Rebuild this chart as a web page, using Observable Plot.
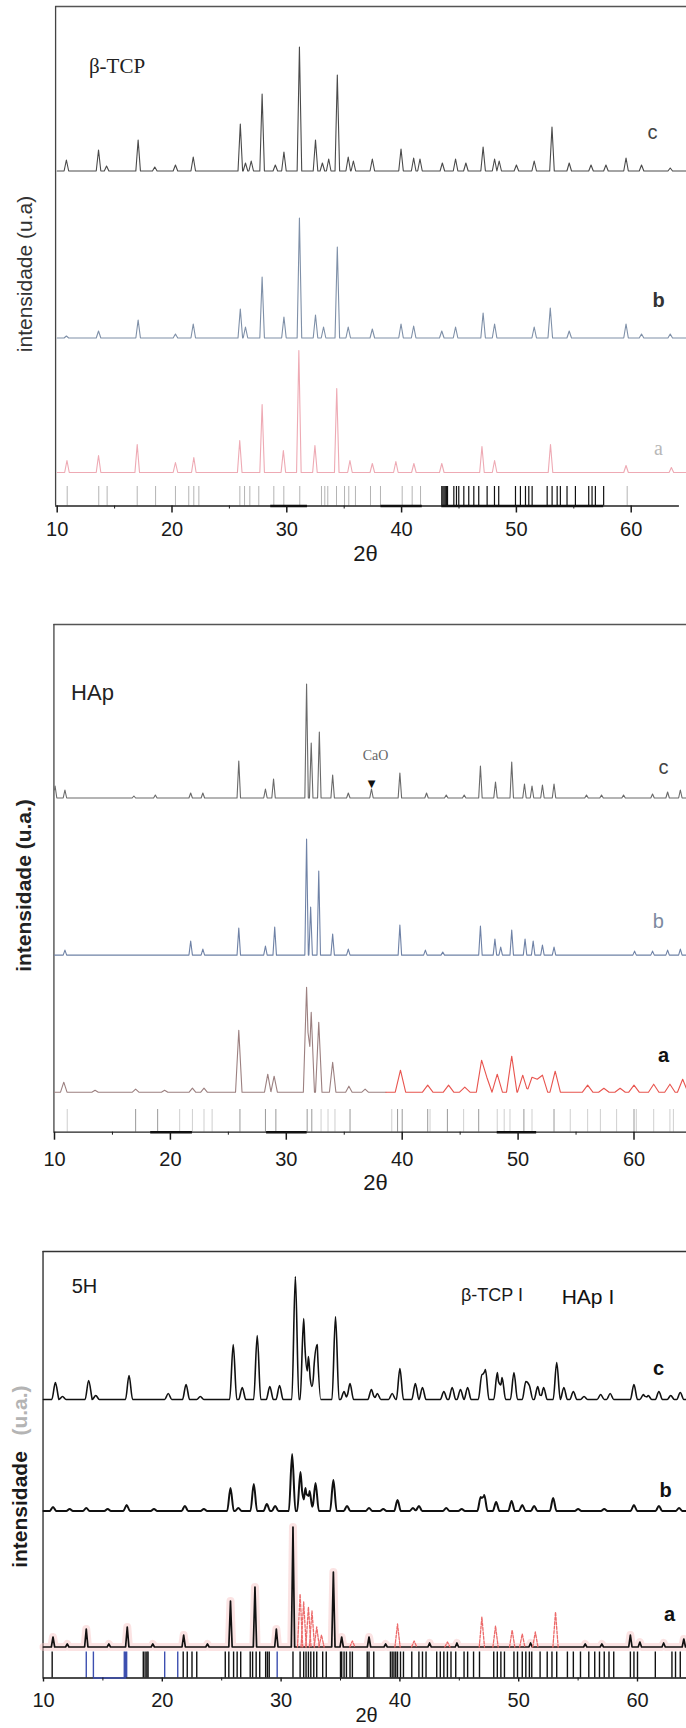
<!DOCTYPE html>
<html>
<head>
<meta charset="utf-8">
<script src="https://cdn.jsdelivr.net/npm/d3@7"></script>
<script src="https://cdn.jsdelivr.net/npm/@observablehq/plot@0.6"></script>
<style>
  body { margin: 0; background: #fff; }
  #fig { position: relative; width: 686px; height: 1728px; overflow: hidden; background: #fff; }
  #fig > svg { position: absolute; left: 0; }
</style>
</head>
<body>
<div id="fig"></div>
<script>
// ---------- β-TCP: peak positions (2θ) and apparent heights ----------
const tcpC = [[10.8,11],[13.6,21],[14.3,5],[17.05,31],[18.5,4],[20.3,6],[21.85,14],[25.95,47],[26.4,8],[26.9,10],[27.85,77],[29.0,6],[29.75,19],[31.1,124],[32.5,31],[33.1,8],[33.65,12],[34.4,96],[35.35,14],[35.8,10],[37.45,12],[39.95,22],[41.05,13],[41.6,12],[43.55,8],[44.7,12],[45.6,8],[47.1,24],[48.1,12],[48.5,10],[50.0,6],[51.55,10],[53.1,44],[54.6,8],[56.5,6],[57.8,6],[59.55,13],[60.9,6],[63.4,3]];
const tcpB = [[10.8,2],[13.6,7],[17.05,18],[20.3,4],[21.85,14],[25.95,29],[26.4,11],[27.85,61],[29.75,21],[31.1,120],[32.5,23],[33.2,11],[34.4,91],[35.35,11],[37.45,9],[39.95,14],[41.05,12],[43.5,7],[44.7,11],[47.1,25],[48.1,14],[51.55,11],[52.95,30],[54.6,7],[59.55,14],[60.9,4],[63.4,4]];
const tcpA = [[10.85,12],[13.6,17],[16.97,28],[20.3,10],[21.9,15],[25.9,32],[27.85,68],[29.7,22],[31.05,122],[32.45,27],[34.35,84],[35.5,12],[37.45,9],[39.5,11],[41.07,9],[43.5,9],[47.0,26],[48.1,12],[52.97,28],[59.55,7],[63.5,5]];
const tcpRefGray = [10.87,13.62,14.35,16.97,18.57,20.3,21.46,21.9,22.34,25.91,26.32,26.78,27.56,28.87,29.74,31.13,33.02,33.31,33.57,34.33,35.03,35.4,35.98,37.29,38.16,40.05,40.92,41.65,59.65];
const tcpRefBlack = [43.5,43.6,43.7,43.8,43.9,44.0,44.55,44.78,44.98,45.42,45.85,46.29,46.72,47.45,48.09,48.46,49.92,50.35,50.79,51.08,51.37,52.68,53.11,53.55,53.83,54.41,55.14,56.3,56.59,56.88,57.6];
const tcpAxisBars = [[28.6,31.8],[38.2,41.8],[43.5,57.6]];

// ---------- HAp ----------
const hapC = [[10.05,12],[10.9,8],[16.85,2],[18.7,3],[21.75,5],[22.8,5],[25.9,37],[28.2,9],[28.9,19],[31.75,114],[32.15,55],[32.85,66],[34.0,23],[35.35,5],[37.35,9],[39.8,25],[42.1,5],[43.8,3],[45.35,3],[46.75,32],[48.05,16],[49.45,36],[50.55,14],[51.2,12],[52.1,13],[53.1,14],[55.9,3],[57.2,3],[59.1,3],[61.6,4],[62.9,6],[64.0,8]];
const hapB = [[10.9,5],[21.75,14],[22.8,6],[25.9,27],[28.2,9],[29.0,28],[31.75,116],[32.1,48],[32.8,84],[34.0,21],[35.35,6],[39.8,30],[42.0,5],[43.5,3],[46.75,29],[48.0,16],[48.5,8],[49.45,25],[50.6,16],[51.3,14],[52.1,10],[53.1,8],[60.05,4],[61.6,4],[62.9,5],[64.0,6]];
const hapA = [[10.8,10],[13.5,2],[17.0,3],[19.5,2],[21.9,4],[22.9,4],[25.9,62],[28.4,18],[28.95,16],[31.75,105],[32.15,80],[32.8,70],[34.0,30],[35.4,6],[36.8,3],[39.85,22],[42.2,7],[44.0,7],[45.4,5],[46.85,32],[47.3,15],[48.2,18],[49.45,36],[50.4,17],[51.2,15],[51.65,13],[52.1,17],[53.2,21],[56.0,7],[57.4,4],[58.8,4],[60.0,7],[61.7,8],[63.1,8],[64.2,13]];
const hapRefDark = [17.0,18.9,26.0,28.2,29.1,31.8,32.2,35.5,39.6,40.0,42.2,43.9,46.6,50.5,53.1,60.0];
const hapRefLight = [11.1,20.8,21.9,22.9,23.6,33.0,33.6,34.2,39.1,42.4,45.3,48.2,48.8,49.3,51.2,54.5,56.0,57.1,58.5,60.2,61.7,63.1,63.4];
const hapAxisBars = [[18.3,21.9],[28.3,31.8],[48.2,51.6]];

// ---------- 5H ----------
const h5C = [[11.0,17],[11.6,3],[13.8,19],[14.4,4],[17.2,24],[20.5,6],[22.0,15],[23.2,3],[25.97,55],[26.73,12],[27.99,64],[29.05,13],[29.87,14],[31.2,123],[31.9,81],[32.3,43],[32.76,28],[33.04,53],[34.58,83],[35.3,8],[35.8,16],[37.6,10],[38.1,6],[39.35,6],[40.0,31],[41.3,16],[41.9,12],[43.7,8],[44.4,12],[45.1,10],[45.7,12],[46.9,25],[47.2,30],[48.2,27],[48.6,22],[49.6,27],[50.6,18],[50.9,14],[51.6,13],[52.1,12],[53.2,37],[53.8,12],[54.6,8],[55.5,3],[56.9,5],[57.7,6],[59.7,15],[60.5,5],[60.9,4],[61.8,8],[62.8,4],[63.6,7]];
const h5B = [[10.8,4],[12.2,2],[13.6,3],[15.4,2],[17.0,6],[19.3,2],[21.9,5],[23.5,2],[25.74,23],[26.4,3],[27.7,27],[28.8,7],[29.5,5],[30.93,57],[31.63,39],[32.05,23],[32.4,20],[32.9,28],[34.4,31],[35.55,5],[37.4,3],[38.6,2],[39.8,11],[41.1,3],[41.6,5],[43.9,3],[45.2,2],[46.8,14],[47.1,16],[48.1,9],[49.4,10],[50.3,6],[51.3,5],[52.9,13],[55.0,2],[57.2,2],[59.7,6],[61.8,5],[63.5,3]];
const h5A = [[10.8,10],[12.0,3],[13.6,18],[15.5,3],[17.05,20],[19.2,3],[21.8,12],[23.8,3],[25.74,46],[27.8,60],[29.6,18],[31.0,120],[34.4,75],[35.1,10],[37.4,10],[38.8,3],[42.5,4],[44.8,4],[51.0,4],[55.6,3],[57.0,3],[59.4,12],[60.2,5],[62.2,4],[63.9,8]];
const h5ARed = [[31.6,53],[31.9,45],[32.3,40],[32.6,36],[33.0,20],[33.4,12],[36.0,6],[39.8,23],[41.2,6],[44.0,5],[46.9,30],[48.05,21],[49.45,17],[50.3,13],[51.4,15],[53.1,35]];
const h5RefBlack = [10.73,18.4,18.55,18.7,18.8,21.76,22.1,22.5,22.9,25.3,25.6,26.0,26.3,26.6,27.4,27.6,27.9,28.2,28.7,28.85,29.0,31.0,31.6,31.9,32.1,32.3,32.5,32.75,33.0,33.5,33.8,35.0,35.1,35.3,35.5,35.8,36.0,37.25,37.4,37.8,39.2,39.35,39.5,39.65,39.8,40.05,40.3,41.0,41.6,41.9,42.2,43.1,43.4,43.7,44.0,44.3,44.7,45.4,45.7,46.2,46.7,47.9,48.2,48.5,48.8,49.6,49.9,50.3,50.6,50.9,51.1,51.8,52.4,52.8,53.2,54.1,54.6,55.2,55.9,56.4,56.8,57.2,57.6,58.0,59.4,59.7,60.0,61.5,62.9,63.2,63.6];
const h5RefBlue = [13.6,14.2,16.8,16.9,17.0,20.2,21.3,29.67];
const h5AxisBlue = [[14.2,17.0]];

// shared axis ticks
const majorTicks = [10, 20, 30, 40, 50, 60];
const minorTicks = [15, 25, 35, 45, 55];

// vertical stacking offsets of the three patterns in each panel (c, b, a)
const tcpOffsets = {c: 335, b: 168, a: 33.5};
const hapOffsets = {c: 334.2, b: 177.1, a: 40};
const h5Offsets  = {c: 278.5, b: 167, a: 31};

// Piecewise-linear pattern made of triangular peaks on a flat baseline.
function profile(peaks, w, lo, hi, off) {
  const xs = new Set([lo, hi]);
  for (const [t, , pw = w] of peaks) { xs.add(t - pw); xs.add(t); xs.add(t + pw); }
  return [...xs].filter(x => x >= lo && x <= hi).sort((a, b) => a - b).map(x => ({
    x,
    y: off + d3.sum(peaks, ([t, h, pw = w]) => h * Math.max(0, 1 - Math.abs(x - t) / pw))
  }));
}
// one small triangle per peak (for overlaid partial traces)
function peakTriangles(peaks, w, off) {
  return peaks.flatMap(([t, h], i) => [
    {x: t - w, y: off, k: i}, {x: t, y: off + h, k: i}, {x: t + w, y: off, k: i}
  ]);
}

const W = 686;
const sans = "'Liberation Sans', Arial, Helvetica, sans-serif";
const serif = "'Liberation Serif', 'Times New Roman', serif";
const fig = document.getElementById("fig");

function place(svg, top) { svg.style.top = top + "px"; fig.appendChild(svg); }

// ================= Panel β-TCP =================
{
  const x0 = 56.7, k = 11.48, axisY = 505.5, H = 560;
  const xMax = 10 + (W - x0) / k;
  const svg = Plot.plot({
    width: W, height: H,
    marginLeft: x0, marginRight: 0, marginTop: 0, marginBottom: H - axisY,
    x: {domain: [10, xMax]},
    y: {domain: [0, axisY], axis: null},
    style: {fontFamily: sans, fontSize: "20px", color: "#1a1a1a", background: "transparent", overflow: "visible"},
    marks: [
      Plot.ruleY([499.5], {x1: 9.86, x2: xMax, stroke: "#555", strokeWidth: 1.3}),
      Plot.ruleX([9.86], {y1: 0, y2: 499.5, stroke: "#444", strokeWidth: 1.3}),
      Plot.ruleX(tcpRefGray, {y1: 0, y2: 19.5, stroke: "#b4b4b4", strokeWidth: 1}),
      Plot.ruleX(tcpRefBlack, {y1: 0, y2: 19.5, stroke: "#111", strokeWidth: 1.2}),
      Plot.line(profile(tcpA, 0.2, 10, xMax, tcpOffsets.a), {x: "x", y: "y", stroke: "#eeaab4", strokeWidth: 1.1}),
      Plot.line(profile(tcpB, 0.2, 10, xMax, tcpOffsets.b), {x: "x", y: "y", stroke: "#7f90a8", strokeWidth: 1.1}),
      Plot.line(profile(tcpC, 0.2, 10, xMax, tcpOffsets.c), {x: "x", y: "y", stroke: "#4a4a4a", strokeWidth: 1.1}),
      Plot.ruleY([0], {x1: 9.86, x2: 64.2, stroke: "#222", strokeWidth: 1.3}),
      Plot.ruleY(tcpAxisBars, {x1: d => d[0], x2: d => d[1], y: 0, stroke: "#111", strokeWidth: 2.4}),
      Plot.axisX({ticks: majorTicks, tickSize: 7, tickPadding: 9, fontSize: 20, label: null, strokeWidth: 1.5}),
      Plot.axisX({ticks: minorTicks, tickSize: 3, tickFormat: () => "", label: null}),
      Plot.text(["2θ"], {x: 36.85, y: -47.5, fontSize: 22, fill: "#1a1a1a"}),
      Plot.text(["intensidade (u.a)"], {frameAnchor: "left", textAnchor: "middle", dx: -31.7, y: 232, rotate: -90, fontSize: 21, fill: "#333"}),
      Plot.text(["β-TCP"], {x: 15.21, y: 439.5, fontSize: 21, fontFamily: serif, fill: "#222"}),
      Plot.text(["c"], {x: 61.86, y: 373.5, fontSize: 20, fill: "#444"}),
      Plot.text(["b"], {x: 62.38, y: 205.5, fontSize: 20, fontWeight: "bold", fill: "#333"}),
      Plot.text(["a"], {x: 62.38, y: 57.5, fontSize: 20, fontFamily: serif, fill: "#b8b8b8"})
    ]
  });
  place(svg, 0);
}

// ================= Panel HAp =================
{
  const x0 = 54, k = 11.59, axisY = 571.7, H = 640;
  const xMax = 10 + (W - x0) / k;
  const svg = Plot.plot({
    width: W, height: H,
    marginLeft: x0, marginRight: 0, marginTop: 0, marginBottom: H - axisY,
    x: {domain: [10, xMax]},
    y: {domain: [0, axisY], axis: null},
    style: {fontFamily: sans, fontSize: "20px", color: "#1a1a1a", background: "transparent", overflow: "visible"},
    marks: [
      Plot.ruleY([507.7], {x1: 9.95, x2: xMax, stroke: "#555", strokeWidth: 1.3}),
      Plot.ruleX([9.95], {y1: 0, y2: 507.7, stroke: "#444", strokeWidth: 1.3}),
      Plot.ruleX(hapRefLight, {y1: 0, y2: 22.7, stroke: "#cfcfcf", strokeWidth: 1}),
      Plot.ruleX(hapRefDark, {y1: 0, y2: 22.7, stroke: "#9a9a9a", strokeWidth: 1}),
      Plot.line(profile(hapA, 0.28, 10, 38.6, hapOffsets.a), {x: "x", y: "y", stroke: "#9c8080", strokeWidth: 1.1}),
      Plot.line(profile(hapA, 0.45, 38.6, xMax, hapOffsets.a), {x: "x", y: "y", stroke: "#e8544e", strokeWidth: 1.1}),
      Plot.line(profile(hapB, 0.15, 10, xMax, hapOffsets.b), {x: "x", y: "y", stroke: "#6f82a6", strokeWidth: 1.1}),
      Plot.line(profile(hapC, 0.15, 10, xMax, hapOffsets.c), {x: "x", y: "y", stroke: "#6a6a6a", strokeWidth: 1.1}),
      Plot.ruleY([0], {x1: 9.95, x2: xMax, stroke: "#222", strokeWidth: 1.3}),
      Plot.ruleY(hapAxisBars, {x1: d => d[0], x2: d => d[1], y: 0, stroke: "#111", strokeWidth: 2.4}),
      Plot.axisX({ticks: majorTicks, tickSize: 8, tickPadding: 12, fontSize: 20, label: null, strokeWidth: 1.5}),
      Plot.axisX({ticks: minorTicks, tickSize: 3, tickFormat: () => "", label: null}),
      Plot.text(["2θ"], {x: 37.7, y: -50.3, fontSize: 22, fill: "#1a1a1a"}),
      Plot.text(["intensidade (u.a.)"], {frameAnchor: "left", textAnchor: "middle", dx: -30, y: 246.7, rotate: -90, fontSize: 21, fontWeight: "bold", fill: "#222"}),
      Plot.text(["HAp"], {x: 13.28, y: 439.7, fontSize: 22, fill: "#222"}),
      Plot.text(["CaO"], {x: 37.7, y: 376.7, fontSize: 14, fontFamily: serif, fill: "#666"}),
      Plot.text(["▼"], {x: 37.35, y: 348.7, fontSize: 10, fontFamily: "'DejaVu Sans'", fill: "#111"}),
      Plot.text(["c"], {x: 62.55, y: 364.7, fontSize: 20, fill: "#444"}),
      Plot.text(["b"], {x: 62.1, y: 210.7, fontSize: 20, fill: "#7d8aa0"}),
      Plot.text(["a"], {x: 62.55, y: 77.1, fontSize: 20, fontWeight: "bold", fill: "#111"})
    ]
  });
  place(svg, 560);
}

// ================= Panel 5H =================
{
  const x0 = 43, k = 11.88, axisY = 477.5, H = 528;
  const xMax = 10 + (W - x0) / k;
  const svg = Plot.plot({
    width: W, height: H,
    marginLeft: x0, marginRight: 0, marginTop: 0, marginBottom: H - axisY,
    x: {domain: [10, xMax]},
    y: {domain: [0, axisY], axis: null},
    style: {fontFamily: sans, fontSize: "20px", color: "#1a1a1a", background: "transparent", overflow: "visible"},
    marks: [
      Plot.ruleY([426.5], {x1: 9.96, x2: xMax, stroke: "#333", strokeWidth: 1.4}),
      Plot.ruleX([9.96], {y1: 0, y2: 426.5, stroke: "#333", strokeWidth: 1.4}),
      Plot.ruleX(h5RefBlack, {y1: 0, y2: 26, stroke: "#111", strokeWidth: 1.4}),
      Plot.ruleX(h5RefBlue, {y1: 0, y2: 26, stroke: "#3d4fb0", strokeWidth: 1.4}),
      // pink haze along pattern a
      Plot.line(profile(h5A, 0.14, 10, xMax, h5Offsets.a), {x: "x", y: "y", stroke: "#f6c2c2", strokeWidth: 8, strokeOpacity: 0.45}),
      Plot.line(profile(h5A, 0.14, 10, xMax, h5Offsets.a), {x: "x", y: "y", stroke: "#111", strokeWidth: 1.7}),
      Plot.line(peakTriangles(h5ARed, 0.22, h5Offsets.a), {x: "x", y: "y", z: "k", stroke: "#ec6b6b", strokeWidth: 1.3, strokeDasharray: "3,1.5"}),
      Plot.line(profile(h5B, 0.28, 10, xMax, h5Offsets.b), {x: "x", y: "y", stroke: "#111", strokeWidth: 2, curve: "monotone-x"}),
      Plot.line(profile(h5C, 0.3, 10, xMax, h5Offsets.c), {x: "x", y: "y", stroke: "#111", strokeWidth: 1.6, curve: "monotone-x"}),
      Plot.ruleY([0], {x1: 9.96, x2: xMax, stroke: "#111", strokeWidth: 1.4}),
      Plot.ruleY(h5AxisBlue, {x1: d => d[0], x2: d => d[1], y: 0, stroke: "#3d4fb0", strokeWidth: 1.5}),
      Plot.axisX({ticks: majorTicks, tickSize: 4, tickPadding: 11, fontSize: 20, label: null, strokeWidth: 1.4}),
      Plot.axisX({ticks: minorTicks, tickSize: 3, tickFormat: () => "", label: null}),
      Plot.text(["2θ"], {x: 37.19, y: -37.5, fontSize: 20, fill: "#1a1a1a"}),
      Plot.text(["intensidade"], {frameAnchor: "left", textAnchor: "middle", dx: -23, y: 168.5, rotate: -90, fontSize: 21, fontWeight: "bold", fill: "#1a1a1a"}),
      Plot.text(["(u.a.)"], {frameAnchor: "left", textAnchor: "middle", dx: -23, y: 267.5, rotate: -90, fontSize: 21, fontWeight: "bold", fill: "#b4b4b4"}),
      Plot.text(["5H"], {x: 13.45, y: 391.5, fontSize: 20, fill: "#1a1a1a"}),
      Plot.text(["β-TCP I"], {x: 47.75, y: 382.5, fontSize: 18, fill: "#1a1a1a"}),
      Plot.text(["HAp I"], {x: 55.83, y: 380.5, fontSize: 21, fill: "#111"}),
      Plot.text(["c"], {x: 61.77, y: 309.5, fontSize: 20, fontWeight: "bold", fill: "#111"}),
      Plot.text(["b"], {x: 62.36, y: 187, fontSize: 20, fontWeight: "bold", fill: "#111"}),
      Plot.text(["a"], {x: 62.7, y: 63.5, fontSize: 20, fontWeight: "bold", fill: "#111"})
    ]
  });
  place(svg, 1200);
}
</script>
</body>
</html>
